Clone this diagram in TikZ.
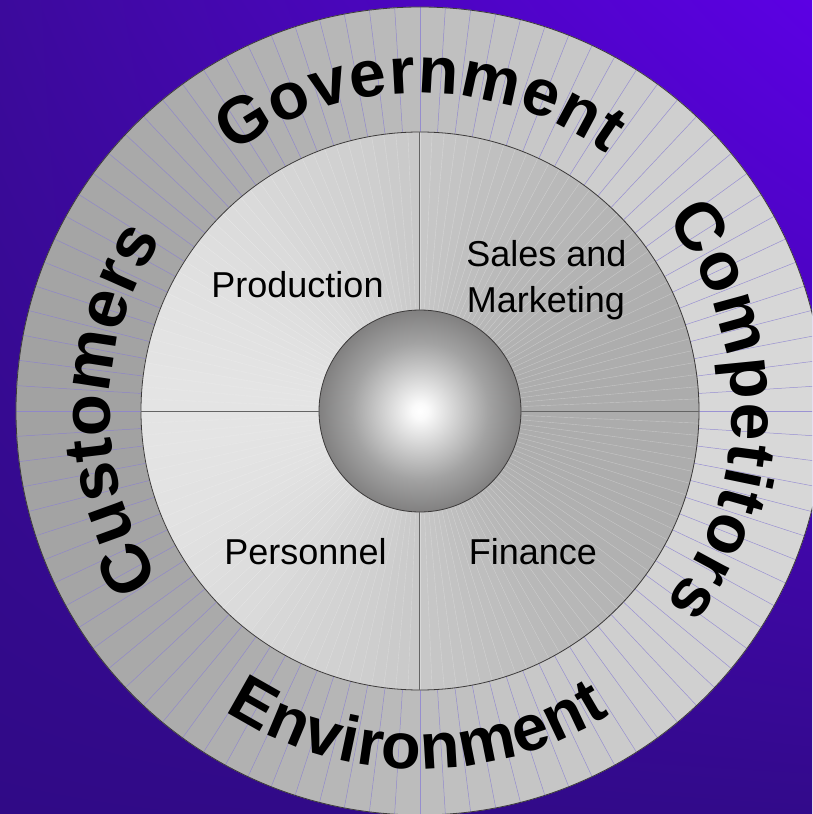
\documentclass[tikz,border=0pt]{standalone}
\usepackage{fontspec}
\setmainfont{Liberation Sans}
\usetikzlibrary{positioning}
\usetikzlibrary{calc}
\usetikzlibrary{shadings}
\usetikzlibrary{decorations.text}
\newfontfamily\ringfont{Liberation Sans}
\newcommand\govfont{\ringfont\bfseries\fontsize{66}{66}\selectfont}
\newcommand\compfont{\ringfont\bfseries\fontsize{68}{68}\selectfont}
\newcommand\custfont{\ringfont\bfseries\fontsize{69}{69}\selectfont}
\newcommand\envfont{\ringfont\bfseries\fontsize{65}{65}\selectfont}
\definecolor{bgtl}{RGB}{60,10,156}
\definecolor{bgtr}{RGB}{92,0,228}
\definecolor{bgbl}{RGB}{48,10,134}
\definecolor{bgbr}{RGB}{50,10,138}
\definecolor{spoke}{RGB}{140,130,210}
\definecolor{edge}{RGB}{60,58,58}
\definecolor{divider}{RGB}{100,100,100}
\definecolor{ballin}{RGB}{250,250,250}
\definecolor{ballmid}{RGB}{162,162,162}
\definecolor{ballout}{RGB}{88,86,86}
\pgfdeclareradialshading{ballshade}{\pgfpoint{0bp}{0bp}}{color(0bp)=(white); color(2bp)=(ballin); color(17bp)=(ballmid); color(35bp)=(ballout); color(50bp)=(ballout)}

\begin{document}
\begin{tikzpicture}[x=1pt, y=1pt,
    bigword/.style={decorate, decoration={text along path, text align=fit to path, text={#1}}},
    boxtext/.style={font=\fontsize{36}{44}\selectfont, inner sep=0, anchor=base},
    rim/.style={circle, draw=edge, line width=0.8pt, inner sep=0},
  ]
  \clip (-420,-403) rectangle (392,411);
  \shade[upper left=bgtl, upper right=bgtr, lower left=bgbl, lower right=bgbr] (-420,-403) rectangle (392,411);

  % outer ring %
  \foreach \i in {0,...,99}{
    \pgfmathsetmacro\a{3.6*\i}
    \pgfmathsetmacro\g{(189+27*cos(\a+1.8))/255}
    \definecolor{wedge}{gray}{\g}
    \filldraw[wedge, line width=0.5pt] (0,0) -- (\a:404) arc[start angle=\a, end angle=\a+3.6, radius=404] -- cycle;
  }
  \foreach \i in {0,...,99}
    \draw[spoke, opacity=0.8, line width=0.5pt] (3.6*\i:279) -- (3.6*\i:404);
  \node[rim, minimum size=808pt] (ring) at (0,0) {};

  % inner disk %
  \foreach \i in {0,...,143}{
    \pgfmathsetmacro\a{2.5*\i}
    \pgfmathsetmacro\g{(200-28*cos(\a+1.25))/255}
    \definecolor{wedge}{gray}{\g}
    \filldraw[wedge, line width=0.5pt] (0,0) -- (\a:279) arc[start angle=\a, end angle=\a+2.5, radius=279] -- cycle;
  }
  \foreach \i in {0,...,143}
    \draw[white, opacity=0.3, line width=0.4pt] (2.5*\i:100) -- (2.5*\i:279);
  \node[rim, minimum size=558pt] (disk) at (0,0) {};

  % nodes %
  \node[rim, minimum size=202pt, shade, shading=ballshade] (core) at (0,0) {};
  \node[boxtext] (production) at (-122.5,113) {Production};
  \node[boxtext] (sales) at (126.5,144) {Sales and};
  \node[boxtext] (marketing) at (126,99) {Marketing};
  \node[boxtext] (personnel) at (-114.5,-153) {Personnel};
  \node[boxtext] (finance) at (113,-153) {Finance};

  % edges %
  \draw[divider, line width=1pt] (core.north) -- (disk.north);
  \draw[divider, line width=1pt] (core.south) -- (disk.south);
  \draw[divider, line width=1pt] (core.west) -- (disk.west);
  \draw[divider, line width=1pt] (core.east) -- (disk.east);

  % ring words %
  \path[bigword={|\govfont|Government}] (126:318) arc[start angle=126, end angle=54, radius=318];
  \path[bigword={|\compfont|Competitors}] (38:312) arc[start angle=38, end angle=-38, radius=312];
  \path[bigword={|\envfont|Environment}] (237:358) arc[start angle=237, end angle=302, radius=358];
  \path[bigword={|\custfont|Customers}] (213:310) arc[start angle=213, end angle=147, radius=310];
\end{tikzpicture}
\end{document}
